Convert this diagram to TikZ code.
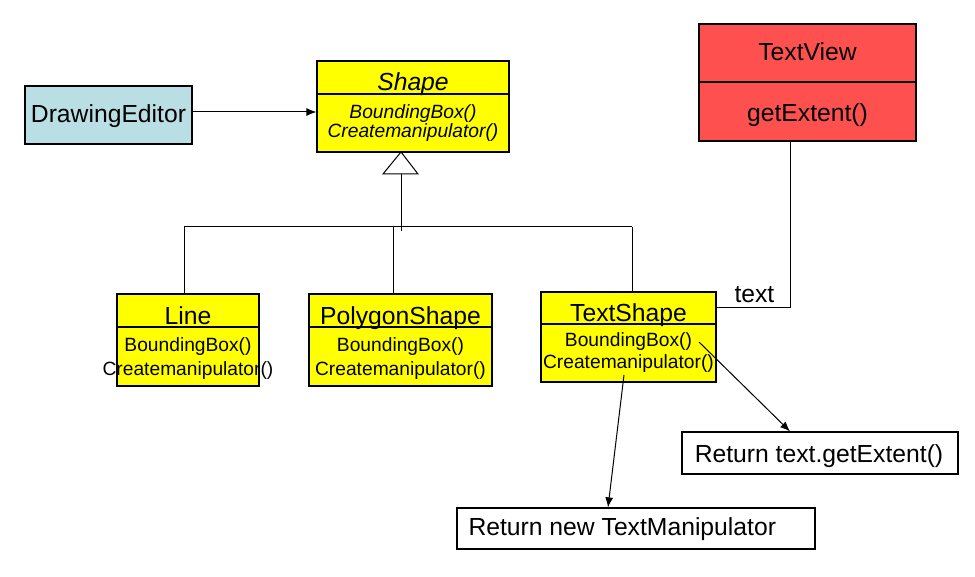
\documentclass[tikz,border=0pt]{standalone}
\usepackage{fontspec}
\setmainfont{Liberation Sans}
\usepackage{xcolor}
\usetikzlibrary{arrows.meta}
\definecolor{editorblue}{RGB}{185,223,228}
\definecolor{classyellow}{RGB}{255,255,0}
\definecolor{viewred}{RGB}{255,80,80}
\newcommand{\titlesize}{\fontsize{24.7}{28}\selectfont}
\newcommand{\methsize}{\fontsize{19.2}{22}\selectfont}

\begin{document}
\begin{tikzpicture}[x=1pt, y=-1pt, >={Latex[length=10pt,width=8pt]}, line width=1pt,
    box/.style={draw, line width=1.2pt, inner sep=0pt},
    title/.style={inner sep=0pt, anchor=base, font=\titlesize},
    meth/.style={inner sep=0pt, anchor=base, font=\methsize}]
        \useasboundingbox (0,0) rectangle (975,577);
        % editor
        \node[box, fill=editorblue, minimum width=167pt, minimum height=58pt] (editor) at (108.5,115) {};
        \node[title] (editorName) at (108.5,123) {DrawingEditor};
        % abstract shape
        \node[box, fill=classyellow, minimum width=192pt, minimum height=33pt] (shapeHead) at (413,77.5) {};
        \node[box, fill=classyellow, minimum width=192pt, minimum height=58pt] (shapeBody) at (413,123) {};
        \node[title, font=\titlesize\itshape] (shapeName) at (413,91) {Shape};
        \node[meth, font=\methsize\itshape] (shapeBB) at (413,119) {BoundingBox()};
        \node[meth, font=\methsize\itshape] (shapeCM) at (413,138) {Createmanipulator()};
        % subclasses
        \node[box, fill=classyellow, minimum width=142pt, minimum height=33pt] (lineHead) at (188,310.5) {};
        \node[box, fill=classyellow, minimum width=142pt, minimum height=59pt] (lineBody) at (188,356.5) {};
        \node[title] (lineName) at (188,325) {Line};
        \node[meth] (lineBB) at (188,352) {BoundingBox()};
        \node[meth] (lineCM) at (188,375) {Createmanipulator()};
        \node[box, fill=classyellow, minimum width=183pt, minimum height=33pt] (polyHead) at (400.5,310.5) {};
        \node[box, fill=classyellow, minimum width=183pt, minimum height=59pt] (polyBody) at (400.5,356.5) {};
        \node[title] (polyName) at (400.5,325) {PolygonShape};
        \node[meth] (polyBB) at (400.5,352) {BoundingBox()};
        \node[meth] (polyCM) at (400.5,375) {Createmanipulator()};
        \node[box, fill=classyellow, minimum width=175pt, minimum height=32pt] (tshapeHead) at (628.5,308) {};
        \node[box, fill=classyellow, minimum width=175pt, minimum height=58pt] (tshapeBody) at (628.5,353) {};
        \node[title] (tshapeName) at (628.5,322) {TextShape};
        \node[meth] (tshapeBB) at (628.5,347) {BoundingBox()};
        \node[meth] (tshapeCM) at (628.5,369) {Createmanipulator()};
        % text view
        \node[box, fill=viewred, minimum width=217pt, minimum height=58pt] (tviewHead) at (807.5,53) {};
        \node[box, fill=viewred, minimum width=217pt, minimum height=59pt] (tviewBody) at (807.5,111.5) {};
        \node[title] (tviewName) at (807.5,61) {TextView};
        \node[title] (tviewGE) at (807.5,122) {getExtent()};
        % notes
        \node[box, minimum width=276pt, minimum height=42pt] (retExt) at (820,453) {};
        \node[title] (retExtText) at (819,462) {Return text.getExtent()};
        \node[box, minimum width=358pt, minimum height=41pt] (retNew) at (636,528.5) {};
        \node[title, anchor=base west] (retNewText) at (468,535) {Return new TextManipulator};
        % connectors
        \draw[->] ([yshift=3pt]editor.east) coordinate (e1) -- (e1 -| shapeBody.west);
        \coordinate (tip) at (401,152);
        \coordinate (triBase) at (401,174);
        \draw[fill=white] (tip) -- ++(17,22) -- ++(-35,0) -- cycle;
        \draw (triBase) -- ++(0,57);
        \coordinate (busL) at (184,227);
        \coordinate (busP) at (393,227);
        \coordinate (busR) at (632,227);
        \draw (busL) -- (busR);
        \draw (busL) -- (busL |- lineHead.north);
        \draw (busP) -- (busP |- polyHead.north);
        \draw (busR) -- (busR |- tshapeHead.north);
        \draw ([xshift=-17.5pt]tviewBody.south) |- (tshapeHead.east);
        \node[title, anchor=base west] (textLabel) at (734,303) {text};
        \coordinate (bbOut) at (699,342);
        \coordinate (cmOut) at (624,375);
        \draw[->] (bbOut) -- ([xshift=-30pt]retExt.north);
        \draw[->] (cmOut) -- ([xshift=-28pt]retNew.north);
\end{tikzpicture}
\end{document}
